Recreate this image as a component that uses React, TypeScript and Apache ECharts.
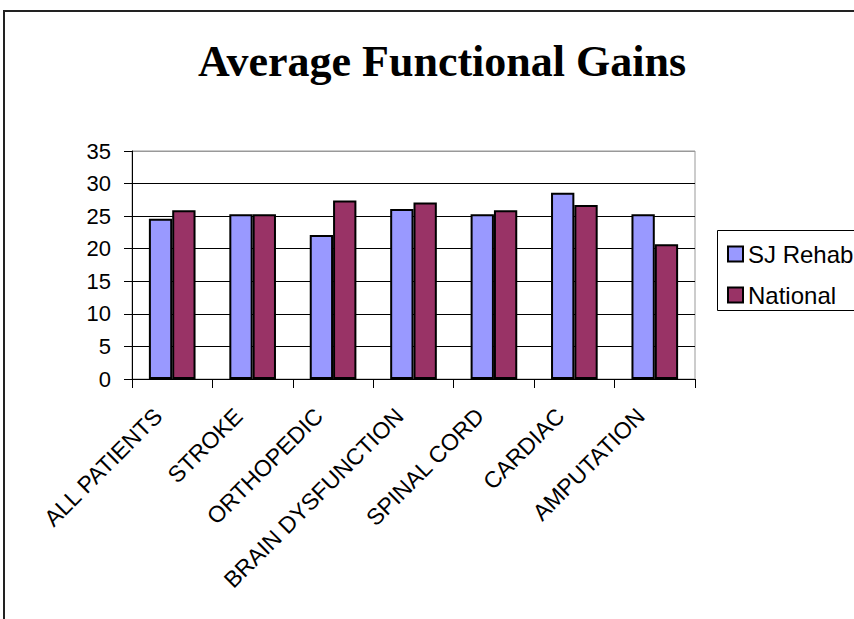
import React, { useEffect, useRef } from "react";
import * as echarts from "echarts";

const categories = [
  "ALL PATIENTS",
  "STROKE",
  "ORTHOPEDIC",
  "BRAIN DYSFUNCTION",
  "SPINAL CORD",
  "CARDIAC",
  "AMPUTATION",
];
const sjRehab = [24.6, 25.3, 22.1, 26.1, 25.3, 28.6, 25.3];
const national = [25.9, 25.3, 27.4, 27.1, 25.9, 26.7, 20.7];
const seriesNames = ["SJ Rehab", "National"];
const yMin = 0;
const yMax = 35;
const yInterval = 5;

export default function App() {
  const ref = useRef<HTMLDivElement>(null);
  useEffect(() => {
    if (!ref.current) return;
    const chart = echarts.init(ref.current, null, { renderer: "svg" });
    const sans = "Liberation Sans, Arial, sans-serif";
    chart.setOption({
      animation: false,
      backgroundColor: "#ffffff",
      title: {
        text: "Average Functional Gains",
        left: 437,
        top: 34,
        textAlign: "center",
        textStyle: {
          fontFamily: "Liberation Serif, Times New Roman, serif",
          fontWeight: "bold",
          fontSize: 44,
          color: "#000",
        },
      },
      graphic: [
        {
          type: "rect",
          shape: { x: 4, y: 11, width: 1000, height: 1000 },
          style: { fill: "none", stroke: "#222", lineWidth: 2 },
          silent: true,
        },
        {
          type: "rect",
          shape: { x: 717.5, y: 230.5, width: 300, height: 80 },
          style: { fill: "#fff", stroke: "#000", lineWidth: 1 },
          silent: true,
          z: 0,
        },
      ],
      legend: {
        orient: "vertical",
        left: 727,
        top: 242,
        padding: 0,
        icon: "rect",
        itemWidth: 15,
        itemHeight: 15,
        itemGap: 17,
        z: 10,
        textStyle: {
          fontFamily: sans,
          fontSize: 24,
          lineHeight: 20,
          color: "#000",
        },
        data: seriesNames,
      },
      grid: {
        left: 132,
        top: 151,
        right: 159,
        bottom: 240,
        show: true,
        borderColor: "#999",
        borderWidth: 1,
        backgroundColor: "transparent",
        containLabel: false,
      },
      xAxis: {
        type: "category",
        data: categories,
        axisLine: { show: true, lineStyle: { color: "#000", width: 1 } },
        axisTick: {
          show: true,
          alignWithLabel: false,
          length: 9,
          lineStyle: { color: "#000", width: 1 },
        },
        axisLabel: {
          interval: 0,
          rotate: 45,
          margin: 19,
          padding: [0, 20, 0, 0],
          fontFamily: sans,
          fontSize: 23,
          color: "#000",
        },
        splitLine: { show: false },
      },
      yAxis: {
        type: "value",
        min: yMin,
        max: yMax,
        interval: yInterval,
        axisLine: { show: true, lineStyle: { color: "#000", width: 1 } },
        axisTick: {
          show: true,
          length: 8,
          lineStyle: { color: "#000", width: 1 },
        },
        axisLabel: {
          margin: 21,
          fontFamily: sans,
          fontSize: 22,
          color: "#000",
        },
        splitLine: {
          show: true,
          lineStyle: {
            color: ["#000", "#000", "#000", "#000", "#000", "#000", "#000", "#999"],
            width: 1,
          },
        },
      },
      series: [
        {
          name: seriesNames[0],
          type: "bar",
          data: sjRehab,
          barGap: "0%",
          barCategoryGap: "42%",
          itemStyle: { color: "#9999FF", borderColor: "#000", borderWidth: 2 },
        },
        {
          name: seriesNames[1],
          type: "bar",
          data: national,
          barGap: "0%",
          barCategoryGap: "42%",
          itemStyle: { color: "#993366", borderColor: "#000", borderWidth: 2 },
        },
      ],
    });
    return () => chart.dispose();
  }, []);
  return (
    <div
      ref={ref}
      style={{ position: "absolute", left: 0, top: 0, width: 854, height: 619 }}
    />
  );
}
